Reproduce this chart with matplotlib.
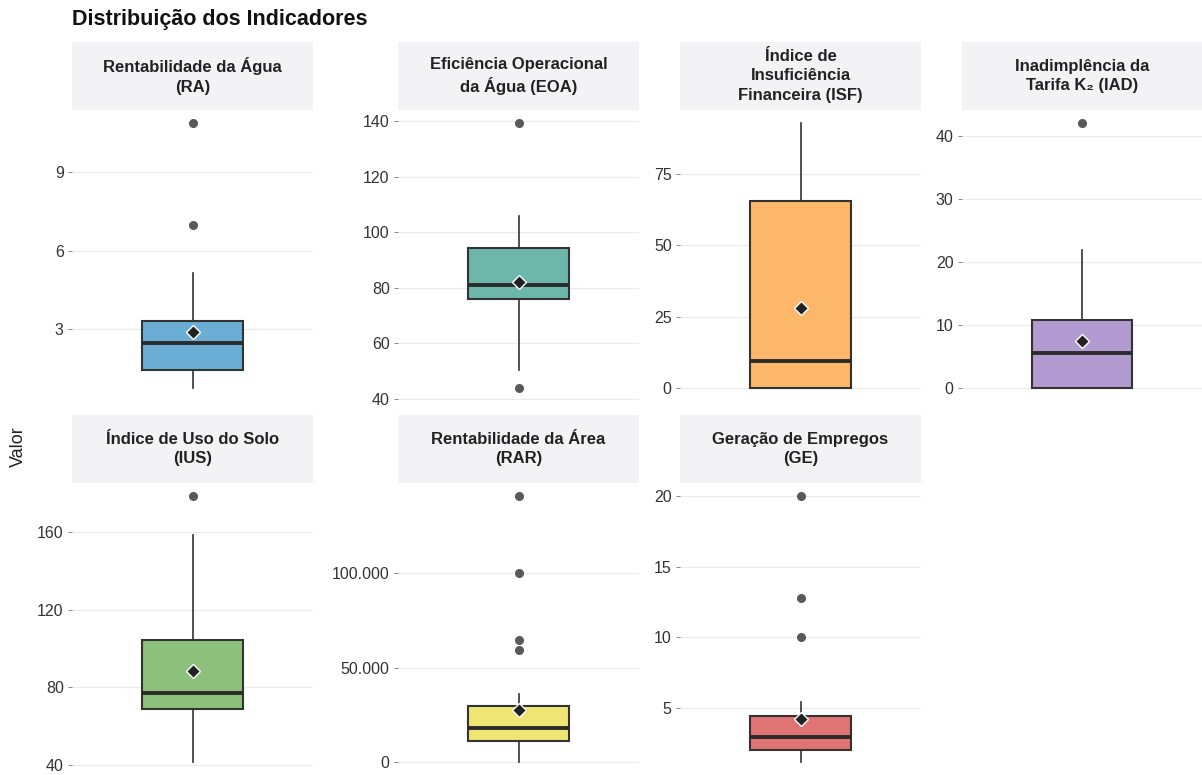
import matplotlib
matplotlib.use("Agg")
import matplotlib.pyplot as plt
from matplotlib.ticker import FuncFormatter

plt.rcParams["font.family"] = ["Liberation Sans", "DejaVu Sans"]

labels = [
    "Rentabilidade da Água\n(RA)",
    "Eficiência Operacional\nda Água (EOA)",
    "Índice de\nInsuficiência\nFinanceira (ISF)",
    "Inadimplência da\nTarifa K\u2082 (IAD)",
    "Índice de Uso do Solo\n(IUS)",
    "Rentabilidade da Área\n(RAR)",
    "Geração de Empregos\n(GE)",
]
colors = ["#6aaed6", "#6db6aa", "#fdb76b", "#b19bd1", "#8dc07a", "#efe574", "#e07474"]

# box statistics per indicator
q1 = [1.44, 76.0, 0.0, 0.0, 68.6, 11200, 2.03]
med = [2.49, 81.1, 9.5, 5.6, 76.9, 18100, 2.95]
q3 = [3.32, 94.2, 65.5, 10.8, 104.5, 29800, 4.43]
whislo = [0.77, 50.3, 0.0, 0.0, 41.6, 0, 1.18]
whishi = [5.14, 105.8, 92.9, 21.9, 158.6, 36200, 5.4]
means = [2.90, 82.2, 28.0, 7.5, 88.3, 27700, 4.2]
fliers = [[6.99, 10.85], [44.0, 139.3], [], [42.1], [178.6],
          [59600, 64400, 100500, 141000], [10.0, 12.76, 20.0]]

yticks = [[3, 6, 9], [40, 60, 80, 100, 120, 140], [0, 25, 50, 75],
          [0, 10, 20, 30, 40], [40, 80, 120, 160], [0, 50000, 100000],
          [5, 10, 15, 20]]

W, H = 1202, 775
fig = plt.figure(figsize=(W / 100, H / 100), dpi=100)

# panel boxes in pixels: left, top of strip, strip height, panel bottom
lefts = [72, 398, 680, 962, 72, 398, 680]
widths = [241, 241, 241, 240, 241, 241, 241]
strip_top = [42, 42, 42, 42, 415, 415, 415]
strip_h = 68
panel_bot = [401, 401, 401, 401, 775, 775, 775]


def thousands(v, _):
    return f"{v:,.0f}".replace(",", ".")


for i in range(7):
    l, w = lefts[i], widths[i]
    top = strip_top[i] + strip_h
    ax = fig.add_axes([l / W, 1 - panel_bot[i] / H, w / W, (panel_bot[i] - top) / H])
    sax = fig.add_axes([l / W, 1 - top / H, w / W, strip_h / H])
    sax.set_facecolor("#f3f3f5")
    sax.set_xticks([]); sax.set_yticks([])
    for s in sax.spines.values():
        s.set_visible(False)
    sax.text(0.5, 0.5, labels[i], ha="center", va="center", fontsize=12,
             fontweight="bold", color="#222222", linespacing=1.35,
             transform=sax.transAxes)

    st = dict(med=med[i], q1=q1[i], q3=q3[i], whislo=whislo[i], whishi=whishi[i],
              mean=means[i], fliers=fliers[i])
    ax.bxp([st], positions=[1], widths=0.5, patch_artist=True, showcaps=False,
           showmeans=True,
           boxprops=dict(facecolor=colors[i], edgecolor="#333333", linewidth=1.5),
           medianprops=dict(color="#2b2b2b", linewidth=2.8, solid_capstyle="butt"),
           whiskerprops=dict(color="#333333", linewidth=1.2),
           flierprops=dict(marker="o", markersize=5.5, markerfacecolor="#595959",
                           markeredgecolor="#595959"),
           meanprops=dict(marker="D", markersize=7, markerfacecolor="#222222",
                          markeredgecolor="white", markeredgewidth=1.0))

    lo = min([whislo[i]] + fliers[i])
    hi = max([whishi[i]] + fliers[i])
    pad = 0.05 * (hi - lo)
    ax.set_ylim(lo - pad, hi + pad)
    ax.set_xlim(0.4, 1.6)
    ax.set_yticks(yticks[i])
    if i == 5:
        ax.yaxis.set_major_formatter(FuncFormatter(thousands))
    ax.set_xticks([])
    ax.grid(axis="y", color="#ebebeb", linewidth=0.9)
    ax.set_axisbelow(True)
    ax.set_facecolor("white")
    for s in ax.spines.values():
        s.set_visible(False)
    ax.tick_params(axis="y", length=3, width=0.7, color="#888888",
                   labelsize=11.5, labelcolor="#333333", pad=3)

fig.text(72 / W, 1 - 19 / H, "Distribuição dos Indicadores", ha="left", va="center",
         fontsize=15.5, fontweight="bold", color="#111111")
fig.text(18 / W, 1 - 447 / H, "Valor", ha="center", va="center", rotation=90,
         fontsize=13, color="#222222")

fig.savefig("out.png", dpi=100)
